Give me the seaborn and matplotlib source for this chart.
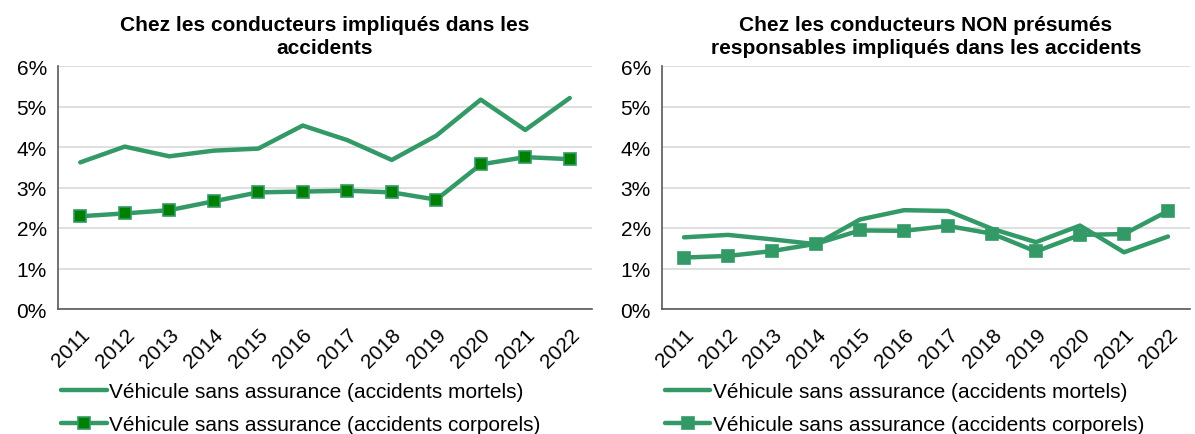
import numpy as np
import pandas as pd
import matplotlib
matplotlib.use("Agg")
import matplotlib.pyplot as plt
from matplotlib.ticker import FixedLocator, FuncFormatter
import seaborn as sns

years = ["2011", "2012", "2013", "2014", "2015", "2016",
         "2017", "2018", "2019", "2020", "2021", "2022"]

# Share of drivers without insurance (%), all drivers involved
all_mortels = [3.62, 4.01, 3.77, 3.91, 3.96, 4.53, 4.17, 3.68, 4.28, 5.17, 4.42, 5.21]
all_corporels = [2.29, 2.36, 2.44, 2.66, 2.88, 2.90, 2.92, 2.88, 2.70, 3.57, 3.75, 3.70]

# Same share among drivers not presumed responsible
nonresp_mortels = [1.77, 1.83, 1.72, 1.60, 2.21, 2.44, 2.42, 1.98, 1.65, 2.06, 1.40, 1.79]
nonresp_corporels = [1.27, 1.31, 1.43, 1.61, 1.94, 1.93, 2.05, 1.86, 1.42, 1.83, 1.85, 2.42]

titles = ["Chez les conducteurs impliqués dans les\naccidents",
          "Chez les conducteurs NON présumés\nresponsables impliqués dans les accidents"]
label_mortels = "Véhicule sans assurance (accidents mortels)"
label_corporels = "Véhicule sans assurance (accidents corporels)"

sns.set_theme(style="white")
plt.rcParams["font.family"] = ["Liberation Sans", "DejaVu Sans"]
plt.rcParams["text.color"] = "black"
plt.rcParams["axes.titlecolor"] = "black"

line_color = "#339966"
marker_faces = ["#008000", "#339966"]

fig = plt.figure(figsize=(11.95, 4.35), dpi=100)
W, H = 1195, 435
boxes = [(58, 592), (662, 1190)]
y_top, y_bot = 67, 310

panels = [(all_mortels, all_corporels), (nonresp_mortels, nonresp_corporels)]

for i, ((x0, x1), (mort, corp)) in enumerate(zip(boxes, panels)):
    ax = fig.add_axes([x0 / W, 1 - y_bot / H, (x1 - x0) / W, (y_bot - y_top) / H])
    df = pd.DataFrame({
        "pos": list(range(len(years))) * 2,
        "val": mort + corp,
        "serie": [label_mortels] * len(years) + [label_corporels] * len(years),
    })
    d1 = df[df["serie"] == label_mortels]
    d2 = df[df["serie"] == label_corporels]
    sns.lineplot(data=d1, x="pos", y="val", ax=ax, color=line_color, lw=3.2,
                 label=label_mortels, zorder=3)
    sns.lineplot(data=d2, x="pos", y="val", ax=ax, color=line_color, lw=3.2,
                 marker="s", markersize=9, markerfacecolor=marker_faces[i],
                 markeredgecolor=line_color, markeredgewidth=1.2,
                 label=label_corporels, zorder=4)

    ax.set_xlim(-0.5, len(years) - 0.5)
    ax.set_ylim(0, 6)
    ax.yaxis.set_major_locator(FixedLocator(np.arange(0, 7, 1)))
    ax.yaxis.set_major_formatter(FuncFormatter(lambda v, p: f"{int(round(v))}%"))
    ax.grid(axis="y", color="#d9d9d9", lw=1.2)
    ax.set_axisbelow(True)

    # category boundaries carry the tick marks, labels sit at category centres
    ax.xaxis.set_major_locator(FixedLocator(np.arange(len(years))))
    ax.set_xticklabels(years, rotation=45, ha="right", rotation_mode="anchor",
                       fontsize=15, color="black")
    ax.xaxis.set_minor_locator(FixedLocator(np.arange(-0.5, len(years), 1)))
    ax.tick_params(axis="x", which="major", length=0, pad=11)
    ax.tick_params(axis="x", which="minor", length=6, width=1.2, color="#595959",
                   direction="out")
    ax.tick_params(axis="y", which="major", length=8, width=1.2, color="#595959",
                   direction="inout", labelsize=15, labelcolor="black", pad=4)

    for s in ["top", "right"]:
        ax.spines[s].set_visible(False)
    for s in ["left", "bottom"]:
        ax.spines[s].set_color("#595959")
        ax.spines[s].set_linewidth(1.2)

    ax.set_xlabel("")
    ax.set_ylabel("")
    ax.set_title(titles[i], fontsize=15, fontweight="bold", pad=9,
                 linespacing=1.32, color="black")

    ax.legend(loc="upper left", bbox_to_anchor=(0.005, -0.30), frameon=False,
              fontsize=15, handlelength=2.2, handletextpad=0.1,
              labelspacing=0.68, borderaxespad=0, borderpad=0)

fig.savefig("out.png", dpi=100)
